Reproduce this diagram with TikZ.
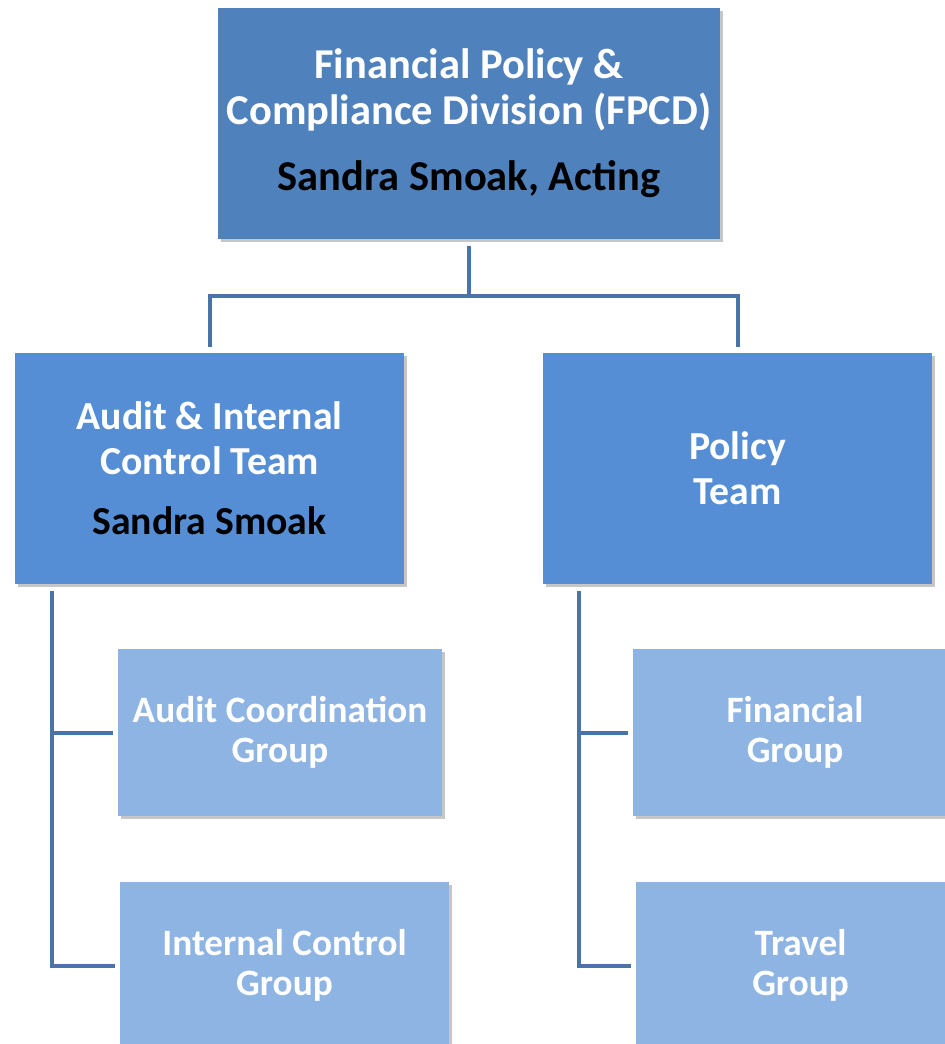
\documentclass[tikz,border=0pt]{standalone}
\usepackage{fontspec}
\setmainfont{Carlito}
\usetikzlibrary{shadows}
\definecolor{divblue}{HTML}{4F81BD}
\definecolor{teamblue}{HTML}{558ED5}
\definecolor{groupblue}{HTML}{8EB4E3}
\definecolor{linkblue}{HTML}{4A74A8}
\begin{document}
\begin{tikzpicture}[x=0.02cm,y=-0.02cm,
 box/.style={rectangle,inner sep=0pt,align=center,text=white,font=\bfseries\fontsize{24.2}{26}\selectfont,drop shadow={shadow xshift=0.06cm,shadow yshift=-0.06cm,opacity=0.45}},
 team/.style={box,fill=teamblue,minimum width=7.78cm,minimum height=4.62cm,font=\bfseries\fontsize{22.6}{25.5}\selectfont},
 grp/.style={box,fill=groupblue,minimum height=3.34cm,font=\bfseries\fontsize{21.2}{22.8}\selectfont},
 link/.style={linkblue,line width=0.08cm,line join=miter,shorten <=0.13cm,shorten >=0.1cm}]
 \useasboundingbox (0,0) rectangle (945,1044);
 \clip (0,0) rectangle (945,1044);
 \node[box,fill=divblue,minimum width=10.04cm,minimum height=4.62cm] (div) at (469,123.5) {Financial Policy \&\\Compliance Division (FPCD)\\[0.42cm]\textcolor{black}{Sandra Smoak, Acting}};
 \node[team] (audit) at (209.5,468.5) {Audit \& Internal\\Control Team\\[0.3cm]\textcolor{black}{Sandra Smoak}};
 \node[team] (policy) at (737.5,468.5) {Policy\\Team};
 \node[grp,minimum width=6.48cm] (audcoord) at (280,732.5) {Audit Coordination\\Group};
 \node[grp,minimum width=6.58cm] (intctrl) at (284.5,965.5) {Internal Control\\Group};
 \node[grp,minimum width=6.48cm] (financial) at (795,732.5) {Financial\\Group};
 \node[grp,minimum width=6.58cm] (travel) at (800.5,965.5) {Travel\\Group};
 \coordinate (bus) at (469,296);
 \draw[link,shorten >=0pt] (div) -- (bus);
 \draw[link,shorten <=0pt,shorten >=0.12cm] (bus) -| (audit);
 \draw[link,shorten <=0pt,shorten >=0.12cm] (bus) -| (policy);
 \draw[link] ([xshift=0.74cm]audit.south west) |- (audcoord);
 \draw[link] ([xshift=0.74cm]audit.south west) |- (intctrl);
 \draw[link] ([xshift=0.72cm]policy.south west) |- (financial);
 \draw[link] ([xshift=0.72cm]policy.south west) |- (travel);
\end{tikzpicture}
\end{document}
